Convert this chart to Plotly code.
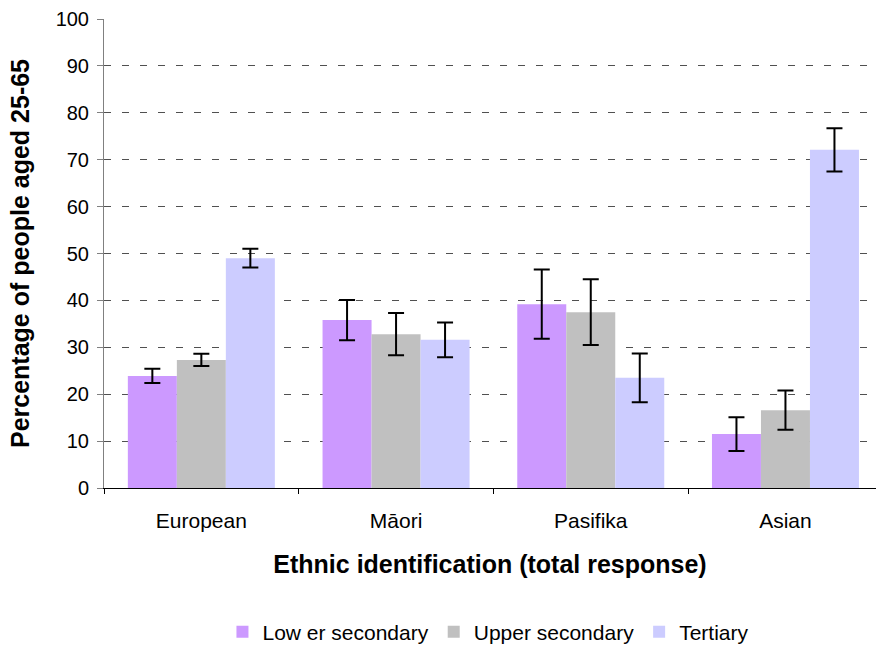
import plotly.graph_objects as go

categories = ["European", "Māori", "Pasifika", "Asian"]
series_names = ["Low er secondary", "Upper secondary", "Tertiary"]
lower_vals = [23.9, 35.8, 39.2, 11.5]
lower_err = [1.5, 4.3, 7.4, 3.6]
upper_vals = [27.3, 32.8, 37.5, 16.6]
upper_err = [1.3, 4.5, 7.0, 4.2]
tertiary_vals = [49.0, 31.6, 23.5, 72.1]
tertiary_err = [2.0, 3.7, 5.2, 4.6]
colors = ["#CC99FF", "#C0C0C0", "#CCCCFF"]
y_ticks = list(range(0, 101, 10))

fig = go.Figure()
for name, vals, errs, col in zip(series_names,
                                 [lower_vals, upper_vals, tertiary_vals],
                                 [lower_err, upper_err, tertiary_err], colors):
    fig.add_trace(go.Bar(
        x=categories, y=vals, name=name, marker=dict(color=col, line=dict(width=0)),
        error_y=dict(type="data", array=errs, visible=True, color="black",
                     thickness=2, width=8),
    ))

fig.update_layout(
    width=876, height=646,
    paper_bgcolor="white", plot_bgcolor="white",
    barmode="group", bargap=0.245, bargroupgap=0,
    margin=dict(l=104, r=0, t=19, b=158, autoexpand=False),
    font=dict(family="Liberation Sans, Arial", size=20, color="black"),
    showlegend=True,
    legend=dict(orientation="h", x=0.498, xanchor="center", y=-0.307, yanchor="middle",
                font=dict(size=21), traceorder="normal", itemwidth=30,
                tracegroupgap=0),
    xaxis=dict(
        range=[-0.5, 3.465], showline=True, linecolor="black", linewidth=1,
        ticks="outside", tickson="boundaries", ticklen=5, tickcolor="black",
        tickfont=dict(size=21), automargin=False, ticklabelstandoff=14,
        title=dict(text="<b>Ethnic identification (total response)</b>",
                   font=dict(size=25), standoff=24),
        showgrid=False,
    ),
    yaxis=dict(
        range=[0, 100], tickvals=y_ticks, showline=True, linecolor="#808080",
        linewidth=1, ticks="outside", ticklen=6, tickcolor="#808080",
        tickfont=dict(size=20), automargin=False, ticklabelstandoff=4,
        showgrid=True, gridcolor="#505050", griddash="7px,11px", gridwidth=1,
        title=dict(text="<b>Percentage of people aged 25-65</b>",
                   font=dict(size=25), standoff=18),
        zeroline=False,
    ),
)

fig.write_html("out.html", config={"displayModeBar": False},
               post_script="document.body.style.margin='0px';")
